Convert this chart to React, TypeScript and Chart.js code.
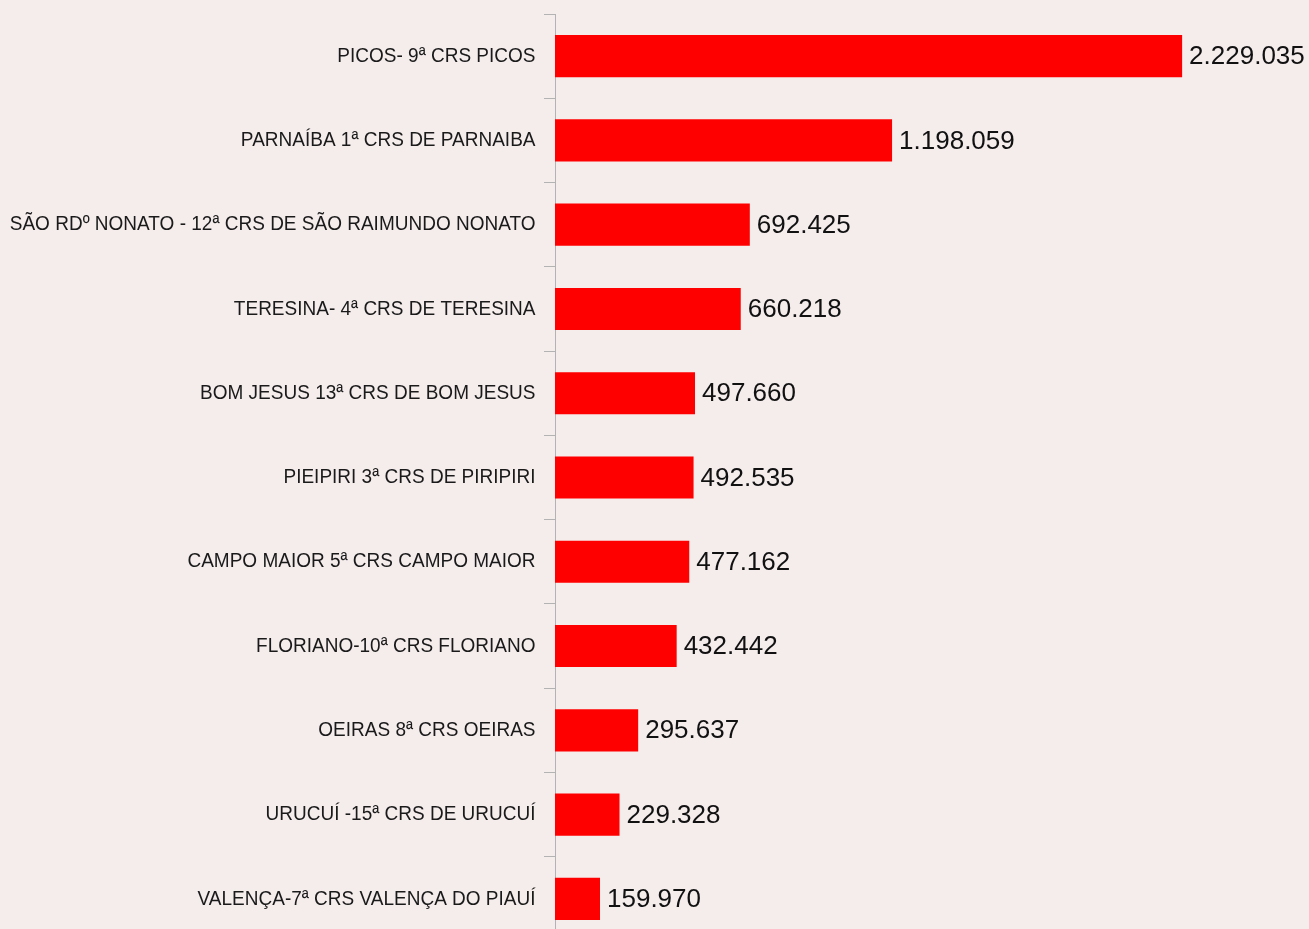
import React, { useEffect, useRef } from "react";
import { Chart, registerables } from "chart.js";

Chart.register(...registerables);

const categories: string[] = [
  "PICOS- 9ª CRS PICOS",
  "PARNAÍBA 1ª CRS DE PARNAIBA",
  "SÃO RDº NONATO - 12ª CRS DE SÃO RAIMUNDO NONATO",
  "TERESINA- 4ª CRS DE TERESINA",
  "BOM JESUS 13ª CRS DE BOM JESUS",
  "PIEIPIRI 3ª CRS DE PIRIPIRI",
  "CAMPO MAIOR 5ª CRS CAMPO MAIOR",
  "FLORIANO-10ª CRS FLORIANO",
  "OEIRAS 8ª CRS OEIRAS",
  "URUCUÍ -15ª CRS DE URUCUÍ",
  "VALENÇA-7ª CRS VALENÇA DO PIAUÍ",
];

const values: number[] = [
  2229035, 1198059, 692425, 660218, 497660, 492535, 477162, 432442, 295637,
  229328, 159970,
];

const xMax = 2680000;

function formatBR(n: number): string {
  return String(Math.round(n)).replace(/\B(?=(\d{3})+(?!\d))/g, ".");
}

const valueLabels = {
  id: "valueLabels",
  afterDatasetsDraw(chart: any) {
    const ctx = chart.ctx;
    const meta = chart.getDatasetMeta(0);
    ctx.save();
    ctx.font = '26px "Liberation Sans", Arial, sans-serif';
    ctx.fillStyle = "#111111";
    ctx.textAlign = "left";
    ctx.textBaseline = "middle";
    meta.data.forEach((bar: any, i: number) => {
      ctx.fillText(formatBR(values[i]), bar.x + 7, bar.y + 1);
    });
    ctx.restore();
  },
};

const categoryLabels = {
  id: "categoryLabels",
  afterDraw(chart: any) {
    const ctx = chart.ctx;
    const yScale = chart.scales.y;
    const right = chart.chartArea.left - 19.5;
    ctx.save();
    ctx.font = '20.5px "Liberation Sans", Arial, sans-serif';
    ctx.fillStyle = "#1a1a1a";
    ctx.textAlign = "right";
    ctx.textBaseline = "middle";
    categories.forEach((label, i) => {
      const y = yScale.getPixelForValue(i);
      ctx.save();
      ctx.translate(right, y);
      ctx.scale(0.927, 1);
      ctx.fillText(label, 0, 0);
      ctx.restore();
    });
    ctx.restore();
  },
};

export default function App() {
  const ref = useRef<HTMLCanvasElement | null>(null);

  useEffect(() => {
    if (!ref.current) return;
    const chart = new Chart(ref.current, {
      type: "bar",
      data: {
        labels: categories,
        datasets: [
          {
            data: values,
            backgroundColor: "#ff0000",
            borderWidth: 0,
            barPercentage: 1,
            categoryPercentage: 0.5,
          },
        ],
      },
      options: {
        indexAxis: "y",
        animation: false,
        responsive: false,
        maintainAspectRatio: false,
        layout: { padding: { top: 14, right: 0, bottom: 0, left: 0 } },
        plugins: {
          legend: { display: false },
          tooltip: { enabled: false },
          title: { display: false },
        },
        scales: {
          x: {
            display: false,
            min: 0,
            max: xMax,
          },
          y: {
            afterFit: (scale: any) => {
              scale.width = 555;
              scale.paddingTop = 0;
              scale.paddingBottom = 0;
            },
            grid: {
              display: true,
              drawOnChartArea: false,
              drawTicks: true,
              tickLength: 11,
              color: "#b3b3b3",
              offset: true,
            },
            border: { display: true, color: "#b3b3b3", width: 1 },
            ticks: {
              padding: 8,
              color: "rgba(0,0,0,0)",
              font: { family: '"Liberation Sans", Arial, sans-serif', size: 12 },
            },
          },
        },
      },
      plugins: [valueLabels, categoryLabels],
    });
    return () => chart.destroy();
  }, []);

  return (
    <div
      style={{
        position: "fixed",
        left: 0,
        top: 0,
        width: 1309,
        height: 929,
        overflow: "hidden",
        background: "#f5ecec",
      }}
    >
      <canvas ref={ref} width={1309} height={941} style={{ display: "block" }} />
    </div>
  );
}
